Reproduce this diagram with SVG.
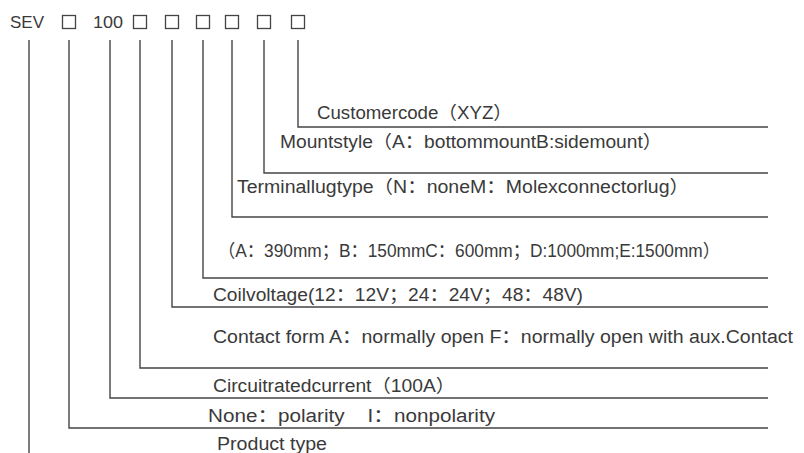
<svg xmlns="http://www.w3.org/2000/svg" width="804" height="453" viewBox="0 0 804 453">
<style>
.bg{fill:#ffffff}
.t{font-family:"Liberation Sans","Noto Sans CJK SC",Arial,sans-serif;font-size:18px;fill:#3a3a3a}
.code{font-family:"Liberation Sans",Arial,sans-serif;font-size:17px;fill:#3a3a3a}
.box{fill:none;stroke:#444;stroke-width:1.3}
.ln{fill:none;stroke:#444;stroke-width:1.4}
</style>
<rect class="bg" x="0" y="0" width="804" height="453"/>
<g id="code">
<text class="code" x="10" y="28" textLength="34" lengthAdjust="spacingAndGlyphs">SEV</text>
<rect class="box" x="62.5" y="15.5" width="13" height="13"/>
<text class="code" x="93" y="28" textLength="30" lengthAdjust="spacingAndGlyphs">100</text>
<rect class="box" x="133.5" y="15.5" width="13" height="13"/>
<rect class="box" x="165.5" y="15.5" width="13" height="13"/>
<rect class="box" x="196.5" y="15.5" width="13" height="13"/>
<rect class="box" x="225.5" y="15.5" width="13" height="13"/>
<rect class="box" x="257.5" y="15.5" width="13" height="13"/>
<rect class="box" x="291.5" y="15.5" width="13" height="13"/>
</g>
<g id="connectors">
<polyline class="ln" points="298,40 298,127 768,127"/>
<polyline class="ln" points="264,40 264,173 768,173"/>
<polyline class="ln" points="232,40 232,217 768,217"/>
<polyline class="ln" points="203,40 203,278 768,278"/>
<polyline class="ln" points="172,40 172,307 768,307"/>
<polyline class="ln" points="140,40 140,368 768,368"/>
<polyline class="ln" points="110,40 110,398 768,398"/>
<polyline class="ln" points="69,40 69,428 768,428"/>
<polyline class="ln" points="29,40 29,453"/>
</g>
<g id="customer-code"><text class="t" x="317" y="119" textLength="195" lengthAdjust="spacingAndGlyphs">Customercode（XYZ）</text></g>
<g id="mount-style"><text class="t" x="280" y="148" textLength="382" lengthAdjust="spacingAndGlyphs">Mountstyle（A：bottommountB:sidemount）</text></g>
<g id="terminal-lug"><text class="t" x="237" y="193" textLength="452" lengthAdjust="spacingAndGlyphs">Terminallugtype（N：noneM：Molexconnectorlug）</text></g>
<g id="lead-length"><text class="t" x="218" y="257" textLength="502" lengthAdjust="spacingAndGlyphs">（A：390mm；B：150mmC：600mm；D:1000mm;E:1500mm）</text></g>
<g id="coil-voltage"><text class="t" x="213" y="301" textLength="370" lengthAdjust="spacingAndGlyphs">Coilvoltage(12：12V；24：24V；48：48V)</text></g>
<g id="contact-form"><text class="t" x="213" y="343" textLength="580" lengthAdjust="spacingAndGlyphs">Contact form A：normally open F：normally open with aux.Contact</text></g>
<g id="rated-current"><text class="t" x="213" y="392" textLength="242" lengthAdjust="spacingAndGlyphs">Circuitratedcurrent（100A）</text></g>
<g id="polarity"><text class="t" x="208" y="422" textLength="287" lengthAdjust="spacingAndGlyphs" xml:space="preserve">None：polarity    I：nonpolarity</text></g>
<g id="product-type"><text class="t" x="217" y="450" textLength="110" lengthAdjust="spacingAndGlyphs">Product type</text></g>
</svg>
